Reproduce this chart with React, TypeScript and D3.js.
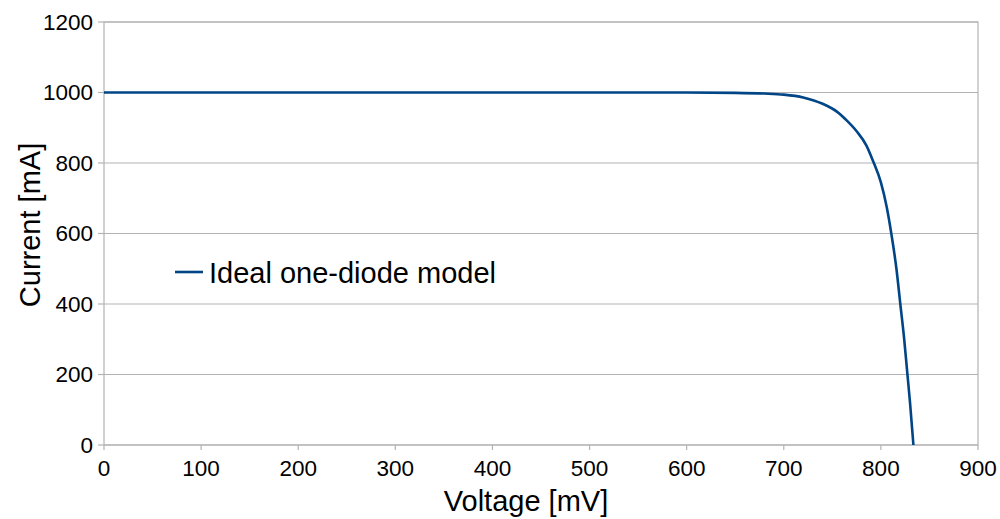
import React from "react";
import * as d3 from "d3";

// I–V curve of a solar cell (ideal one-diode model)
const voltage = [0, 100, 200, 300, 400, 500, 600, 650, 680, 700, 720, 740, 755, 765, 775, 785, 792, 800, 806, 811, 816, 820, 824, 827, 830, 833.5];
const current = [1000, 1000, 1000, 1000, 1000, 1000, 1000, 999, 997, 994, 986, 968, 945, 920, 890, 850, 805, 745, 675, 595, 500, 400, 300, 210, 120, 0];
const xTicks = [0, 100, 200, 300, 400, 500, 600, 700, 800, 900];
const yTicks = [0, 200, 400, 600, 800, 1000, 1200];
const seriesName = "Ideal one-diode model";
const xTitle = "Voltage [mV]";
const yTitle = "Current [mA]";

const W = 1000;
const H = 519;
const left = 104;
const right = 978;
const top = 22;
const bottom = 445;
const font = "'Liberation Sans', Arial, sans-serif";
const gridColor = "#b3b3b3";
const lineColor = "#004586";

export default function App() {
  const x = d3.scaleLinear().domain([0, 900]).range([left, right]);
  const y = d3.scaleLinear().domain([0, 1200]).range([bottom, top]);
  const pts: [number, number][] = voltage.map((v, i) => [v, current[i]]);
  const path = d3
    .line<[number, number]>()
    .x((d) => x(d[0]))
    .y((d) => y(d[1]))
    .curve(d3.curveMonotoneX)(pts);

  return (
    <svg
      width={W}
      height={H}
      style={{ position: "absolute", left: 0, top: 0, background: "#fff" }}
      fontFamily={font}
    >
      <rect x={0} y={0} width={W} height={H} fill="#fff" />
      {/* horizontal gridlines */}
      {yTicks.map((t) => (
        <line key={"g" + t} x1={left} x2={right} y1={y(t)} y2={y(t)} stroke={gridColor} strokeWidth={1.2} />
      ))}
      {/* plot frame */}
      <rect x={left} y={top} width={right - left} height={bottom - top} fill="none" stroke={gridColor} strokeWidth={1.2} />
      {/* y ticks and labels */}
      {yTicks.map((t) => (
        <g key={"y" + t}>
          <line x1={left - 6} x2={left} y1={y(t)} y2={y(t)} stroke={gridColor} strokeWidth={1.2} />
          <text x={93} y={y(t)} dy="0.35em" textAnchor="end" fontSize={22.5} fill="#000">
            {t}
          </text>
        </g>
      ))}
      {/* x ticks and labels */}
      {xTicks.map((t) => (
        <g key={"x" + t}>
          <line x1={x(t)} x2={x(t)} y1={bottom} y2={bottom + 5} stroke={gridColor} strokeWidth={1.2} />
          <text x={x(t)} y={476} textAnchor="middle" fontSize={22.5} fill="#000">
            {t}
          </text>
        </g>
      ))}
      {/* data line */}
      <path d={path ?? ""} fill="none" stroke={lineColor} strokeWidth={2.6} strokeLinejoin="round" />
      {/* legend */}
      <line x1={175} x2={203} y1={272} y2={272} stroke={lineColor} strokeWidth={2.6} />
      <text x={209} y={282.5} fontSize={29} fill="#000">
        {seriesName}
      </text>
      {/* axis titles */}
      <text x={526} y={511} textAnchor="middle" fontSize={29} fill="#000">
        {xTitle}
      </text>
      <text transform="translate(40,225) rotate(-90)" textAnchor="middle" fontSize={29} fill="#000">
        {yTitle}
      </text>
    </svg>
  );
}
